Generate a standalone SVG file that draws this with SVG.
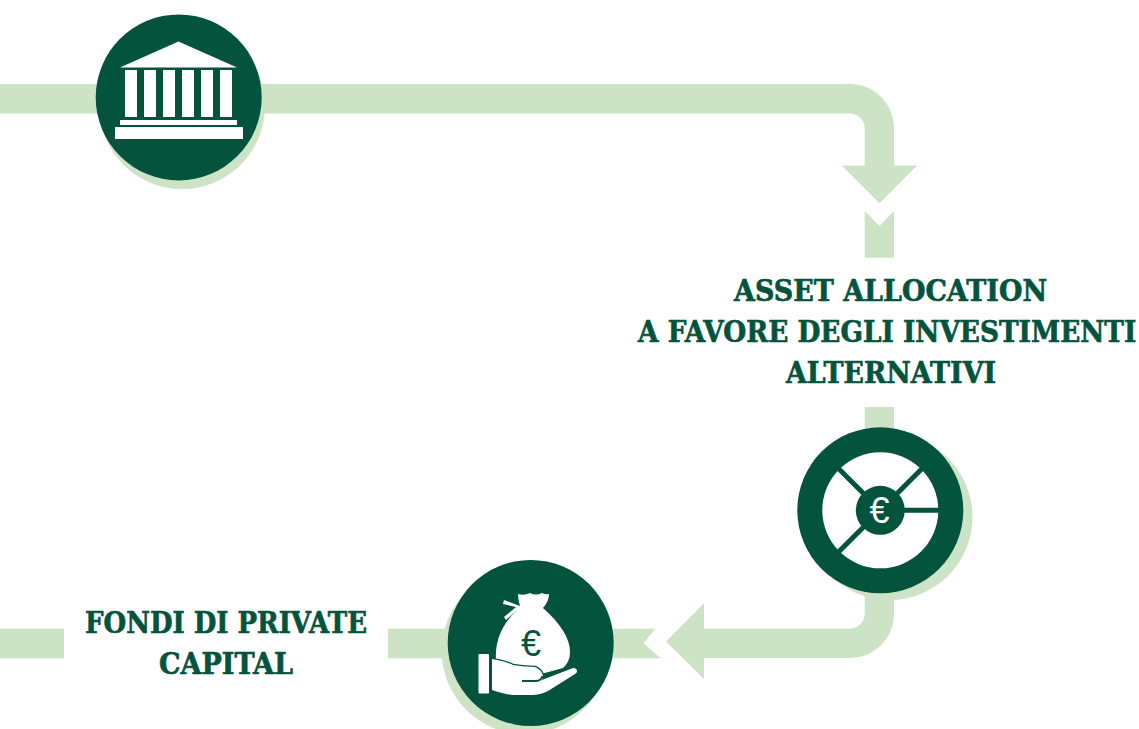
<svg xmlns="http://www.w3.org/2000/svg" width="1139" height="729" viewBox="0 0 1139 729">
<style>
.band{fill:#cce3c6}
.disc{fill:#04543d}
.ico{fill:#fff}
.lbl{font-family:"DejaVu Serif","Liberation Serif",serif;font-weight:700;font-size:29.5px;fill:#04543d;stroke:#04543d;stroke-width:.7px;text-anchor:start}
.eur{font-family:"Liberation Sans",sans-serif;font-size:36px;text-anchor:middle}
</style>
<rect width="1139" height="729" fill="#fff"/>
<g id="connectors">
<path class="band" d="M0 84H850A44 44 0 0 1 894 128V165.5H917L879.5 203.3L841.7 165.5H864.7V128A15 15 0 0 0 850 113.5H0Z"/>
<path class="band" d="M864.7 211L879.5 226L894 211V257.7H864.7Z"/>
<path class="band" d="M864.7 407H894V614A44 44 0 0 1 850 658H704V679L666 641.5L704 603.3V628.7H850A15 15 0 0 0 864.7 614Z"/>
<path class="band" d="M600 628.7H655.3L643.5 643.3L660.7 658.3H600Z"/>
<rect class="band" x="388" y="628.7" width="70" height="29.6"/>
<rect class="band" x="0" y="628.7" width="64" height="29.6"/>
</g>
<g id="node-bank">
<circle class="band" cx="182" cy="106" r="83"/>
<circle class="disc" cx="178.7" cy="97.4" r="83"/>
<path class="ico" d="M178.5 41.5L237 67.5H120Z"/>
<rect class="ico" x="125" y="70" width="12" height="47"/>
<rect class="ico" x="144" y="70" width="12" height="47"/>
<rect class="ico" x="163" y="70" width="12" height="47"/>
<rect class="ico" x="182" y="70" width="12" height="47"/>
<rect class="ico" x="201" y="70" width="12" height="47"/>
<rect class="ico" x="220" y="70" width="12" height="47"/>
<rect class="ico" x="120" y="120" width="117" height="5"/>
<rect class="ico" x="115" y="127" width="128" height="12"/>
</g>
<g id="node-allocation">
<circle class="band" cx="889.5" cy="517" r="83"/>
<circle class="disc" cx="880.3" cy="510.3" r="83"/>
<circle class="ico" cx="880.3" cy="510.3" r="58"/>
<path d="M880.3 510.3L838 468M880.3 510.3L922.6 468M880.3 510.3L838 552.6M880.3 510.3H940" stroke="#04543d" stroke-width="5" fill="none"/>
<circle class="disc" cx="880.3" cy="510.3" r="24.5"/>
<text class="eur" x="879.5" y="523" fill="#fff">€</text>
</g>
<g id="node-fund">
<circle class="band" cx="524.7" cy="651" r="83"/>
<circle class="disc" cx="530.7" cy="643" r="83"/>
<path class="ico" d="M518 594Q524 596 530 593Q536 596 542 593Q546 595 549 594Q549 601 543 608Q570 632 570 652Q570 662 563 668L541 674Q530 674 496 660Q494 632 517 610L506 620L504 617L516 607L503 604L504 600L520 606Q518 600 518 594Z"/>
<rect class="ico" x="478.5" y="654" width="10.5" height="39.5" rx="1"/>
<path class="ico" stroke="#04543d" stroke-width="2.5" paint-order="stroke" d="M492 659Q505 661 513 665Q525 667 535 667Q542 670 543 676L542 680L573 668Q577 668 577 671Q577 673 575 674L548 691Q540 695 532 695H512Q500 693 492 690Z"/>
<path d="M522 681H536Q541 681 542.5 676" fill="none" stroke="#04543d" stroke-width="2"/>
<text class="eur" x="531" y="656" fill="#04543d">€</text>
</g>
<g id="label-asset">
<text class="lbl" x="734" y="301" textLength="313" lengthAdjust="spacingAndGlyphs">ASSET ALLOCATION</text>
<text class="lbl" transform="translate(638 342) scale(.894 1)">A FAVORE DEGLI INVESTIMENTI</text>
<text class="lbl" x="786" y="383" textLength="210" lengthAdjust="spacingAndGlyphs">ALTERNATIVI</text>
</g>
<g id="label-fondi">
<text class="lbl" x="85" y="633" textLength="282" lengthAdjust="spacingAndGlyphs">FONDI DI PRIVATE</text>
<text class="lbl" x="159" y="674" textLength="134" lengthAdjust="spacingAndGlyphs">CAPITAL</text>
</g>
</svg>
